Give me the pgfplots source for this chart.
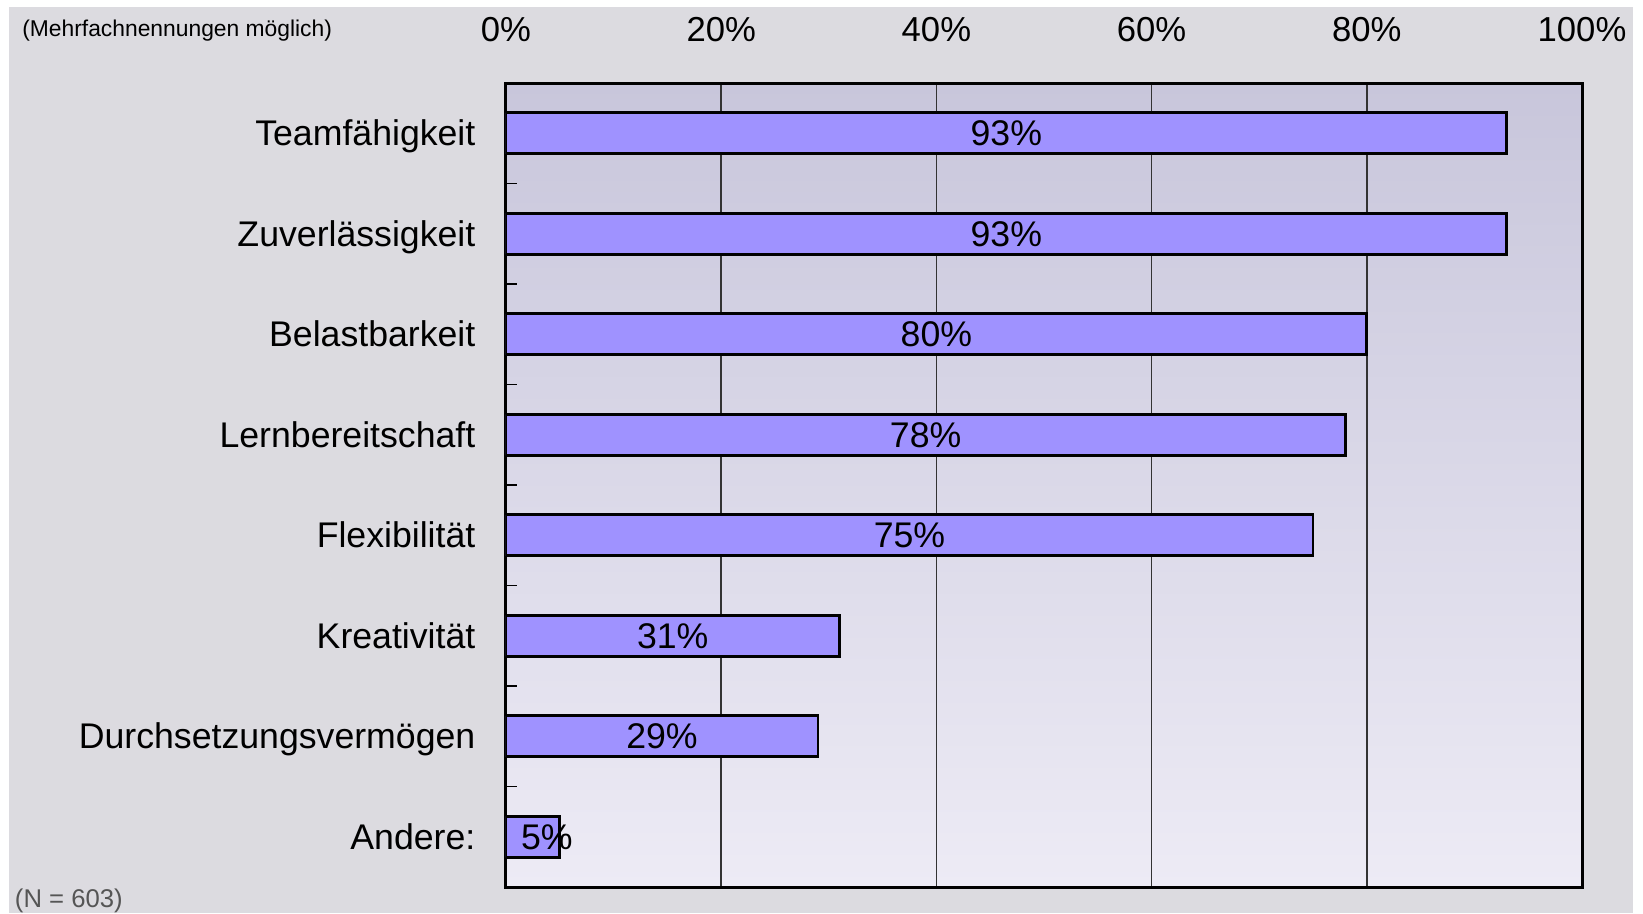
\documentclass[border=0pt]{standalone}
\usepackage{fontspec}
\setmainfont{Liberation Sans}
\usepackage{pgfplots}
\pgfplotsset{compat=1.18}

\definecolor{outerbg}{RGB}{220,219,224}
\definecolor{plottop}{RGB}{200,198,219}
\definecolor{plotbottom}{RGB}{237,235,245}
\definecolor{barfill}{RGB}{159,146,255}
\definecolor{notegray}{RGB}{85,85,85}

\begin{document}
\begin{tikzpicture}
% page: 1643 x 913 px at 0.3pt/px
\fill[white] (0,0) rectangle (492.9pt,273.9pt);
\fill[outerbg] (2.7pt,0) rectangle (489.9pt,271.8pt);
\node[anchor=west, inner sep=0, font=\fontsize{6.85}{8}\selectfont] at (6.5pt,264.6pt) {(Mehrfachnennungen möglich)};
\node[anchor=west, inner sep=0, text=notegray, font=\fontsize{7.7}{9}\selectfont] at (4.3pt,3.6pt) {(N = 603)};

\begin{axis}[
  at={(151.8pt,7.8pt)}, anchor=south west,
  scale only axis, width=322.8pt, height=241.2pt,
  axis background/.style={top color=plottop, bottom color=plotbottom},
  axis line style={line width=0.9pt, black},
  xmin=0, xmax=100, ymin=-0.5, ymax=7.5, y dir=reverse,
  xtick={0,20,...,100},
  xticklabels={0\%,20\%,40\%,60\%,80\%,100\%},
  xticklabel pos=top,
  xticklabel style={anchor=base, yshift=12.5pt, inner sep=0},
  x tick style={draw=none},
  xmajorgrids, major grid style={draw=black!80, line width=0.45pt},
  ytick={0,...,7},
  yticklabels={Teamfähigkeit,Zuverlässigkeit,Belastbarkeit,Lernbereitschaft,Flexibilität,Kreativität,Durchsetzungsvermögen,Andere:},
  yticklabel style={anchor=base east, xshift=-9pt, yshift=-3.8pt, inner sep=0,
    font=\fontsize{10.7}{12}\selectfont},
  ytick pos=left,
  major tick length=0pt,
  minor ytick={0.5,1.5,...,6.5},
  minor tick length=3.3pt,
  tick align=inside,
  minor y tick style={line width=0.4pt, black},
  xticklabel style={font=\fontsize{10.4}{12}\selectfont},
]
\addplot[xbar, bar width=12.3pt, fill=barfill, draw=black, line width=0.8pt]
  coordinates {(93,0) (93,1) (80,2) (78,3) (75,4) (31,5) (29,6) (5,7)};
\addplot[draw=none, mark=none, nodes near coords, point meta=explicit symbolic,
  nodes near coords style={anchor=base, yshift=-3.8pt, inner sep=0, text=black,
    font=\fontsize{10.7}{12}\selectfont}]
  coordinates {(46.5,0)[93\%] (46.5,1)[93\%] (40,2)[80\%] (39,3)[78\%]
               (37.5,4)[75\%] (15.5,5)[31\%] (14.5,6)[29\%] (3.8,7)[5\%]};
\end{axis}
\end{tikzpicture}
\end{document}
